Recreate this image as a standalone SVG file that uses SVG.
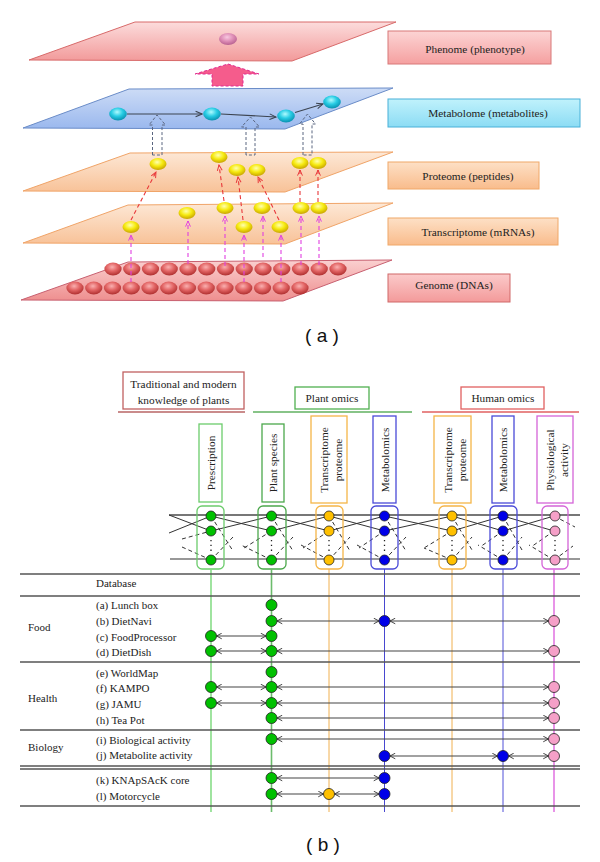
<svg xmlns="http://www.w3.org/2000/svg" xmlns:xlink="http://www.w3.org/1999/xlink" width="600" height="862" viewBox="0 0 600 862">
<style>
.serif{font-family:"Liberation Serif","Times New Roman",serif;fill:#222}
.lbl{font-size:11.3px;text-anchor:middle}
.tb{font-size:11px}
.cap{font-family:"Liberation Sans",Arial,sans-serif;font-size:19px;fill:#111;text-anchor:middle}
.red{stroke:#e8383a;stroke-width:1.1;stroke-dasharray:4 3;fill:none;marker-end:url(#ar)}
.mag{stroke:#e040e0;stroke-width:1.1;stroke-dasharray:4 3;fill:none;marker-end:url(#am)}
.met{stroke:#3c4450;stroke-width:1.1;fill:none;marker-end:url(#ag)}
.hol{fill:none;stroke:#5a6680;stroke-width:1;stroke-dasharray:3 2}
.tl{stroke:#555;stroke-width:1.3}
.arr{stroke:#444;stroke-width:1.1;marker-start:url(#ah);marker-end:url(#ah)}
.ng{fill:#00c000;stroke:#222;stroke-width:0.8}
.nb{fill:#0000e8;stroke:#222;stroke-width:0.8}
.ny{fill:#ffc000;stroke:#222;stroke-width:0.8}
.np{fill:#f5a0c8;stroke:#222;stroke-width:0.8}
.nx{stroke:#333;stroke-width:1;fill:none}
.nd{stroke:#333;stroke-width:1;fill:none;stroke-dasharray:4 3}
.dots{stroke:#222;stroke-width:1.3;stroke-dasharray:1.3 3.5}
.box{fill:#fff;stroke-width:1.3}
.rb{fill:none;stroke-width:1.3}
</style>
<defs>
<linearGradient id="gPhen" x1="0" y1="0" x2="0" y2="1"><stop offset="0" stop-color="#fcdcdc"/><stop offset="1" stop-color="#f29a9a"/></linearGradient>
<linearGradient id="gMet" x1="0" y1="0" x2="0" y2="1"><stop offset="0" stop-color="#cddcf6"/><stop offset="1" stop-color="#9ab8ee"/></linearGradient>
<linearGradient id="gPro" x1="0" y1="0" x2="0" y2="1"><stop offset="0" stop-color="#fde8d6"/><stop offset="1" stop-color="#f8c298"/></linearGradient>
<linearGradient id="gGen" x1="0" y1="0" x2="0" y2="1"><stop offset="0" stop-color="#fad0d0"/><stop offset="1" stop-color="#ee8e8e"/></linearGradient>
<linearGradient id="lPhen" x1="0" y1="0" x2="0" y2="1"><stop offset="0" stop-color="#fcd4d4"/><stop offset="1" stop-color="#f5a0a0"/></linearGradient>
<linearGradient id="lMet" x1="0" y1="0" x2="0" y2="1"><stop offset="0" stop-color="#c0f2fc"/><stop offset="1" stop-color="#8cdcf4"/></linearGradient>
<linearGradient id="lPro" x1="0" y1="0" x2="0" y2="1"><stop offset="0" stop-color="#fde0c6"/><stop offset="1" stop-color="#f9bc8c"/></linearGradient>
<linearGradient id="lGen" x1="0" y1="0" x2="0" y2="1"><stop offset="0" stop-color="#fbcaca"/><stop offset="1" stop-color="#f39a9a"/></linearGradient>
<radialGradient id="rY" cx="0.45" cy="0.35" r="0.65"><stop offset="0" stop-color="#ffffb0"/><stop offset="0.5" stop-color="#f6ea10"/><stop offset="1" stop-color="#c8a400"/></radialGradient>
<radialGradient id="rC" cx="0.45" cy="0.35" r="0.65"><stop offset="0" stop-color="#b0faff"/><stop offset="0.5" stop-color="#28cce4"/><stop offset="1" stop-color="#0890b0"/></radialGradient>
<radialGradient id="rR" cx="0.45" cy="0.35" r="0.65"><stop offset="0" stop-color="#fab0b0"/><stop offset="0.5" stop-color="#e26464"/><stop offset="1" stop-color="#b03030"/></radialGradient>
<radialGradient id="rP" cx="0.45" cy="0.35" r="0.65"><stop offset="0" stop-color="#f8c8e0"/><stop offset="0.5" stop-color="#e090b8"/><stop offset="1" stop-color="#b86090"/></radialGradient>
<ellipse id="ge" rx="8.6" ry="6.4" fill="url(#rR)"/>
<ellipse id="ye" rx="8.5" ry="6" fill="url(#rY)"/>
<ellipse id="ce" rx="8.8" ry="6.5" fill="url(#rC)"/>
<marker id="ar" viewBox="0 0 10 10" refX="9" refY="5" markerWidth="7" markerHeight="7" orient="auto" markerUnits="userSpaceOnUse"><path d="M1,1.5 L9,5 L1,8.5" fill="none" stroke="#e8383a" stroke-width="1.4"/></marker>
<marker id="am" viewBox="0 0 10 10" refX="9" refY="5" markerWidth="7" markerHeight="7" orient="auto" markerUnits="userSpaceOnUse"><path d="M1,1.5 L9,5 L1,8.5" fill="none" stroke="#e040e0" stroke-width="1.4"/></marker>
<marker id="ag" viewBox="0 0 10 10" refX="9" refY="5" markerWidth="8" markerHeight="8" orient="auto" markerUnits="userSpaceOnUse"><path d="M1,1.5 L9,5 L1,8.5" fill="none" stroke="#3c4450" stroke-width="1.3"/></marker>
<marker id="ah" viewBox="0 0 10 10" refX="9.5" refY="5" markerWidth="7" markerHeight="7" orient="auto-start-reverse" markerUnits="userSpaceOnUse"><path d="M2,1 L9.5,5 L2,9" fill="none" stroke="#333" stroke-width="1.3"/></marker>
</defs>
<rect width="600" height="862" fill="#fff"/>

<!-- ===== (a) ===== -->
<g id="layer-phenome">
<polygon points="135,22 396,22 292,61 29,60" fill="url(#gPhen)" stroke="#d86a6a" stroke-width="1"/>
<ellipse cx="228" cy="39" rx="9" ry="6" fill="url(#rP)"/>
</g>
<g id="layer-metabolome">
<polygon points="129,89 393,88 285,129 23,128" fill="url(#gMet)" stroke="#6a8cc8" stroke-width="1"/>
</g>
<g id="layer-proteome">
<polygon points="130,153 393,152 285,192 23,191" fill="url(#gPro)" stroke="#f0a468" stroke-width="1"/>
</g>
<g id="layer-transcriptome">
<polygon points="128,205 393,203 285,244 23,243" fill="url(#gPro)" stroke="#f0a468" stroke-width="1"/>
</g>
<g id="layer-genome">
<polygon points="128,262 392,260 283,301 21,300" fill="url(#gGen)" stroke="#c86070" stroke-width="1"/>
<use xlink:href="#ge" x="113" y="269"/><use xlink:href="#ge" x="131.75" y="269"/><use xlink:href="#ge" x="150.5" y="269"/><use xlink:href="#ge" x="169.25" y="269"/><use xlink:href="#ge" x="188" y="269"/><use xlink:href="#ge" x="206.75" y="269"/><use xlink:href="#ge" x="225.5" y="269"/><use xlink:href="#ge" x="244.25" y="269"/><use xlink:href="#ge" x="263" y="269"/><use xlink:href="#ge" x="281.75" y="269"/><use xlink:href="#ge" x="300.5" y="269"/><use xlink:href="#ge" x="319.25" y="269"/><use xlink:href="#ge" x="338" y="269"/>
<use xlink:href="#ge" x="75" y="288"/><use xlink:href="#ge" x="93.75" y="288"/><use xlink:href="#ge" x="112.5" y="288"/><use xlink:href="#ge" x="131.25" y="288"/><use xlink:href="#ge" x="150" y="288"/><use xlink:href="#ge" x="168.75" y="288"/><use xlink:href="#ge" x="187.5" y="288"/><use xlink:href="#ge" x="206.25" y="288"/><use xlink:href="#ge" x="225" y="288"/><use xlink:href="#ge" x="243.75" y="288"/><use xlink:href="#ge" x="262.5" y="288"/><use xlink:href="#ge" x="281.25" y="288"/><use xlink:href="#ge" x="300" y="288"/>
</g>

<g id="connectors-a">
<!-- genome -> transcriptome -->
<path class="mag" d="M131,282 V235"/>
<path class="mag" d="M188,264 V221"/>
<path class="mag" d="M225,266 V216"/>
<path class="mag" d="M244,282 V235"/>
<path class="mag" d="M263,257 V216"/>
<path class="mag" d="M281,282 V235"/>
<path class="mag" d="M301,265 V216"/>
<path class="mag" d="M319,265 V216"/>
<!-- transcriptome -> proteome -->
<path class="red" d="M131,220 L156,172"/>
<path class="red" d="M224,201 L219,165"/>
<path class="red" d="M243,220 L238,177"/>
<path class="red" d="M279,220 L258,177"/>
<path class="red" d="M300,202 V170"/>
<path class="red" d="M318,202 V170"/>
<!-- proteome -> metabolome (hollow dashed) -->
<path class="hol" d="M152.5,155 V125 H149 L157,115 L165.5,125 H162 V155 Z"/>
<path class="hol" d="M246,155 V127 H241.5 L250.5,117 L259.5,127 H255 V155 Z"/>
<path class="hol" d="M303,155 V124 H299.5 L307.5,114 L315.5,124 H312 V155 Z"/>
<!-- metabolome pathway -->
<path class="met" d="M127,114 H202"/>
<path class="met" d="M221,114 L276,117"/>
<path class="met" d="M295,112.5 L323,104"/>
<!-- metabolome -> phenome -->
<polygon points="228,64 259,74 243,74 243,86 212,86 212,74 195,74" fill="#f55c8c" stroke="#e02890" stroke-width="1" stroke-dasharray="3 2"/>
</g>

<g id="nodes-proteome">
<use xlink:href="#ye" x="158" y="164"/><use xlink:href="#ye" x="219" y="157"/><use xlink:href="#ye" x="237" y="170"/><use xlink:href="#ye" x="257" y="170"/><use xlink:href="#ye" x="300" y="163"/><use xlink:href="#ye" x="318" y="163"/>
</g>
<g id="nodes-transcriptome">
<use xlink:href="#ye" x="131" y="227"/><use xlink:href="#ye" x="187" y="213"/><use xlink:href="#ye" x="225" y="208"/><use xlink:href="#ye" x="244" y="227"/><use xlink:href="#ye" x="262" y="208"/><use xlink:href="#ye" x="280" y="227"/><use xlink:href="#ye" x="301" y="208"/><use xlink:href="#ye" x="319" y="208"/>
</g>
<g id="nodes-metabolome">
<use xlink:href="#ce" x="118" y="114"/><use xlink:href="#ce" x="212" y="114"/><use xlink:href="#ce" x="286" y="116"/><use xlink:href="#ce" x="332" y="102"/>
</g>

<g id="label-phenome"><rect x="388" y="31" width="163" height="33" fill="url(#lPhen)" stroke="#d87878"/><text class="serif lbl" x="475" y="52.5">Phenome (phenotype)</text></g>
<g id="label-metabolome"><rect x="388" y="99" width="192" height="28" fill="url(#lMet)" stroke="#48b0d8"/><text class="serif lbl" x="488" y="116.5">Metabolome (metabolites)</text></g>
<g id="label-proteome"><rect x="388" y="162" width="151" height="27" fill="url(#lPro)" stroke="#f0a868"/><text class="serif lbl" x="468" y="180">Proteome (peptides)</text></g>
<g id="label-transcriptome"><rect x="388" y="218" width="170" height="27" fill="url(#lPro)" stroke="#f0a868"/><text class="serif lbl" x="478" y="235.5">Transcriptome (mRNAs)</text></g>
<g id="label-genome"><rect x="388" y="274" width="122" height="28" fill="url(#lGen)" stroke="#d06868"/><text class="serif lbl" x="454" y="289">Genome (DNAs)</text></g>

<text class="cap" x="322" y="342">( a )</text>

<!-- ===== (b) ===== -->
<g id="hdr-traditional">
<rect class="box" x="123" y="372" width="121" height="37" stroke="#c06060"/>
<text class="serif lbl" x="183.5" y="387.5">Traditional and modern</text>
<text class="serif lbl" x="183.5" y="403.5">knowledge of plants</text>
<line x1="118" y1="412" x2="245" y2="412" stroke="#b86464" stroke-width="1.3"/>
</g>
<g id="hdr-plant">
<rect class="box" x="295" y="387" width="74" height="22" stroke="#50b050"/>
<text class="serif lbl" x="332" y="402">Plant omics</text>
<line x1="253" y1="412" x2="412" y2="412" stroke="#60b060" stroke-width="1.3"/>
</g>
<g id="hdr-human">
<rect class="box" x="461" y="387" width="83" height="22" stroke="#e06060"/>
<text class="serif lbl" x="503" y="402">Human omics</text>
<line x1="422" y1="412" x2="579" y2="412" stroke="#e06060" stroke-width="1.3"/>
</g>

<g id="col-prescription">
<rect class="box" x="199" y="424" width="23" height="78" stroke="#6ccc6c"/>
<text class="serif lbl" transform="translate(210.5,463) rotate(-90)" y="4">Prescription</text>
</g>
<g id="col-plant-species">
<rect class="box" x="262" y="424" width="22" height="78" stroke="#4ca84c"/>
<text class="serif lbl" transform="translate(273,463) rotate(-90)" y="4">Plant species</text>
</g>
<g id="col-plant-transcriptome">
<rect class="box" x="311" y="416" width="36" height="87" stroke="#f5b548"/>
<text class="serif lbl" transform="translate(329,460) rotate(-90)"><tspan x="0" y="-1">Transcriptome</tspan><tspan x="0" y="13">proteome</tspan></text>
</g>
<g id="col-plant-metabolomics">
<rect class="box" x="373" y="416" width="23" height="87" stroke="#4a4ad8"/>
<text class="serif lbl" transform="translate(384.5,460) rotate(-90)" y="4">Metabolomics</text>
</g>
<g id="col-human-transcriptome">
<rect class="box" x="434" y="416" width="37" height="87" stroke="#f5b548"/>
<text class="serif lbl" transform="translate(452.5,460) rotate(-90)"><tspan x="0" y="-1">Transcriptome</tspan><tspan x="0" y="13">proteome</tspan></text>
</g>
<g id="col-human-metabolomics">
<rect class="box" x="492" y="416" width="22" height="87" stroke="#4a4ad8"/>
<text class="serif lbl" transform="translate(503,460) rotate(-90)" y="4">Metabolomics</text>
</g>
<g id="col-physiological">
<rect class="box" x="537" y="416" width="36" height="87" stroke="#d464d8"/>
<text class="serif lbl" transform="translate(555,460) rotate(-90)"><tspan x="0" y="-1">Physiological</tspan><tspan x="0" y="13">activity</tspan></text>
</g>

<!-- network -->
<g id="network-lines">
<line x1="169" y1="515" x2="580" y2="515" stroke="#777" stroke-width="1.8"/>
<line x1="170" y1="559" x2="580" y2="559" stroke="#333" stroke-width="1.2"/>
<path class="nx" d="M169,515 L211,531 M169,533 L211,516"/>
<path class="nd" d="M182,539 L211,531 M182,547 L211,560"/>
<path class="nx" d="M211,516 L271.5,531 M211,531 L271.5,516 M271.5,516 L329,531 M271.5,531 L329,516 M329,516 L384.5,531 M329,531 L384.5,516 M384.5,516 L452,531 M384.5,531 L452,516 M452,516 L503,531 M452,531 L503,516 M503,516 L554,531 M503,531 L554,516"/>
<path class="nd" d="M211,516 L233,551 M211,560 L233,537 M271.5,531 L244,548 M271.5,560 L241,545"/>
<path class="nd" d="M271.5,516 L293,551 M271.5,560 L293,537 M329,531 L303,548 M329,560 L301,545"/>
<path class="nd" d="M329,516 L350,551 M329,560 L350,537 M384.5,531 L359,548 M384.5,560 L357,545"/>
<path class="nd" d="M384.5,516 L406,551 M384.5,560 L406,537 M452,531 L424,548 M452,560 L424,548"/>
<path class="nd" d="M452,516 L472,550 M452,560 L472,537 M503,531 L480,547 M503,560 L478,545"/>
<path class="nd" d="M503,516 L522,550 M503,560 L522,537 M554,531 L531,547 M554,560 L529,545"/>
<path class="nd" d="M554,516 L575,527 M554,560 L573,546"/>
</g>
<g id="net-prescription">
<rect class="rb" x="197" y="506" width="27" height="63" rx="5" stroke="#6ccc6c"/>
<line class="dots" x1="211" y1="540" x2="211" y2="554"/>
<circle class="ng" cx="211" cy="516" r="5"/><circle class="ng" cx="211" cy="531" r="5"/><circle class="ng" cx="211" cy="560" r="5"/>
</g>
<g id="net-plant-species">
<rect class="rb" x="258" y="506" width="28" height="63" rx="5" stroke="#4ca84c"/>
<line class="dots" x1="271.5" y1="540" x2="271.5" y2="554"/>
<circle class="ng" cx="271.5" cy="516" r="5"/><circle class="ng" cx="271.5" cy="531" r="5"/><circle class="ng" cx="271.5" cy="560" r="5"/>
</g>
<g id="net-plant-transcriptome">
<rect class="rb" x="316" y="506" width="27" height="63" rx="5" stroke="#f5b548"/>
<line class="dots" x1="329" y1="540" x2="329" y2="554"/>
<circle class="ny" cx="329" cy="516" r="5"/><circle class="ny" cx="329" cy="531" r="5"/><circle class="ny" cx="329" cy="560" r="5"/>
</g>
<g id="net-plant-metabolomics">
<rect class="rb" x="371" y="506" width="27" height="63" rx="5" stroke="#4a4ad8"/>
<line class="dots" x1="384.5" y1="540" x2="384.5" y2="554"/>
<circle class="nb" cx="384.5" cy="516" r="5"/><circle class="nb" cx="384.5" cy="531" r="5"/><circle class="nb" cx="384.5" cy="560" r="5"/>
</g>
<g id="net-human-transcriptome">
<rect class="rb" x="439" y="506" width="27" height="63" rx="5" stroke="#f5b548"/>
<line class="dots" x1="452" y1="540" x2="452" y2="554"/>
<circle class="ny" cx="452" cy="516" r="5"/><circle class="ny" cx="452" cy="531" r="5"/><circle class="ny" cx="452" cy="560" r="5"/>
</g>
<g id="net-human-metabolomics">
<rect class="rb" x="490" y="506" width="27" height="63" rx="5" stroke="#4a4ad8"/>
<line class="dots" x1="503" y1="540" x2="503" y2="554"/>
<circle class="nb" cx="503" cy="516" r="5"/><circle class="nb" cx="503" cy="531" r="5"/><circle class="nb" cx="503" cy="560" r="5"/>
</g>
<g id="net-physiological">
<rect class="rb" x="542" y="506" width="26" height="63" rx="5" stroke="#d464d8"/>
<line class="dots" x1="555" y1="540" x2="555" y2="554"/>
<circle class="np" cx="555" cy="516" r="5"/><circle class="np" cx="555" cy="531" r="5"/><circle class="np" cx="555" cy="560" r="5"/>
</g>

<!-- table -->
<g id="table-grid">
<line x1="211" y1="569" x2="211" y2="812" stroke="#88dd88" stroke-width="1.6"/>
<line x1="271.5" y1="569" x2="271.5" y2="812" stroke="#6cbc6c" stroke-width="1.6"/>
<line x1="329" y1="569" x2="329" y2="812" stroke="#f0b050" stroke-width="1"/>
<line x1="384.5" y1="569" x2="384.5" y2="812" stroke="#4848d0" stroke-width="1"/>
<line x1="452" y1="569" x2="452" y2="812" stroke="#f0b050" stroke-width="1"/>
<line x1="503" y1="569" x2="503" y2="812" stroke="#5050d8" stroke-width="1"/>
<line x1="554" y1="569" x2="554" y2="812" stroke="#e070e0" stroke-width="1.5"/>
<line class="tl" x1="20" y1="574" x2="580" y2="574"/>
<line class="tl" x1="20" y1="596" x2="580" y2="596"/>
<line class="tl" x1="20" y1="662" x2="580" y2="662"/>
<line class="tl" x1="20" y1="730" x2="580" y2="730"/>
<line class="tl" x1="20" y1="766" x2="580" y2="766"/>
<line class="tl" x1="20" y1="769" x2="580" y2="769"/>
<line class="tl" x1="20" y1="806" x2="580" y2="806"/>
<text class="serif tb" x="96" y="587">Database</text>
<text class="serif tb" x="28" y="631">Food</text>
<text class="serif tb" x="28" y="702">Health</text>
<text class="serif tb" x="28" y="751">Biology</text>
</g>

<g id="table-connectors">
<line class="arr" x1="277" y1="621" x2="379" y2="621"/>
<line class="arr" x1="390" y1="621" x2="548.5" y2="621"/>
<line class="arr" x1="216.5" y1="636" x2="266" y2="636"/>
<line class="arr" x1="216.5" y1="651" x2="266" y2="651"/>
<line class="arr" x1="277" y1="651" x2="548.5" y2="651"/>
<line class="arr" x1="216.5" y1="687" x2="266" y2="687"/>
<line class="arr" x1="277" y1="687" x2="548.5" y2="687"/>
<line class="arr" x1="216.5" y1="703" x2="266" y2="703"/>
<line class="arr" x1="277" y1="703" x2="548.5" y2="703"/>
<line class="arr" x1="277" y1="718" x2="548.5" y2="718"/>
<line class="arr" x1="277" y1="739" x2="548.5" y2="739"/>
<line class="arr" x1="390" y1="756" x2="497.5" y2="756"/>
<line class="arr" x1="508.5" y1="756" x2="548.5" y2="756"/>
<line class="arr" x1="277" y1="778" x2="379" y2="778"/>
<line class="arr" x1="277" y1="794" x2="323.5" y2="794"/>
<line class="arr" x1="334.5" y1="794" x2="379" y2="794"/>
</g>

<g id="row-a"><text class="serif tb" x="96" y="609">(a) Lunch box</text><circle class="ng" cx="271.5" cy="605" r="5.5"/></g>
<g id="row-b"><text class="serif tb" x="96" y="625">(b) DietNavi</text><circle class="ng" cx="271.5" cy="621" r="5.5"/><circle class="nb" cx="384.5" cy="621" r="5.5"/><circle class="np" cx="554" cy="621" r="5.5"/></g>
<g id="row-c"><text class="serif tb" x="96" y="641">(c) FoodProcessor</text><circle class="ng" cx="211" cy="636" r="5.5"/><circle class="ng" cx="271.5" cy="636" r="5.5"/></g>
<g id="row-d"><text class="serif tb" x="96" y="656">(d) DietDish</text><circle class="ng" cx="211" cy="651" r="5.5"/><circle class="ng" cx="271.5" cy="651" r="5.5"/><circle class="np" cx="554" cy="651" r="5.5"/></g>
<g id="row-e"><text class="serif tb" x="96" y="677">(e) WorldMap</text><circle class="ng" cx="271.5" cy="672" r="5.5"/></g>
<g id="row-f"><text class="serif tb" x="96" y="692">(f) KAMPO</text><circle class="ng" cx="211" cy="687" r="5.5"/><circle class="ng" cx="271.5" cy="687" r="5.5"/><circle class="np" cx="554" cy="687" r="5.5"/></g>
<g id="row-g"><text class="serif tb" x="96" y="708">(g) JAMU</text><circle class="ng" cx="211" cy="703" r="5.5"/><circle class="ng" cx="271.5" cy="703" r="5.5"/><circle class="np" cx="554" cy="703" r="5.5"/></g>
<g id="row-h"><text class="serif tb" x="96" y="724">(h) Tea Pot</text><circle class="ng" cx="271.5" cy="718" r="5.5"/><circle class="np" cx="554" cy="718" r="5.5"/></g>
<g id="row-i"><text class="serif tb" x="96" y="744">(i) Biological activity</text><circle class="ng" cx="271.5" cy="739" r="5.5"/><circle class="np" cx="554" cy="739" r="5.5"/></g>
<g id="row-j"><text class="serif tb" x="96" y="759">(j) Metabolite activity</text><circle class="nb" cx="384.5" cy="756" r="5.5"/><circle class="nb" cx="503" cy="756" r="5.5"/><circle class="np" cx="554" cy="756" r="5.5"/></g>
<g id="row-k"><text class="serif tb" x="96" y="784">(k) KNApSAcK core</text><circle class="ng" cx="271.5" cy="778" r="5.5"/><circle class="nb" cx="384.5" cy="778" r="5.5"/></g>
<g id="row-l"><text class="serif tb" x="96" y="800">(l) Motorcycle</text><circle class="ng" cx="271.5" cy="794" r="5.5"/><circle class="ny" cx="329" cy="794" r="5.5"/><circle class="nb" cx="384.5" cy="794" r="5.5"/></g>

<text class="cap" x="323" y="851">( b )</text>
</svg>
